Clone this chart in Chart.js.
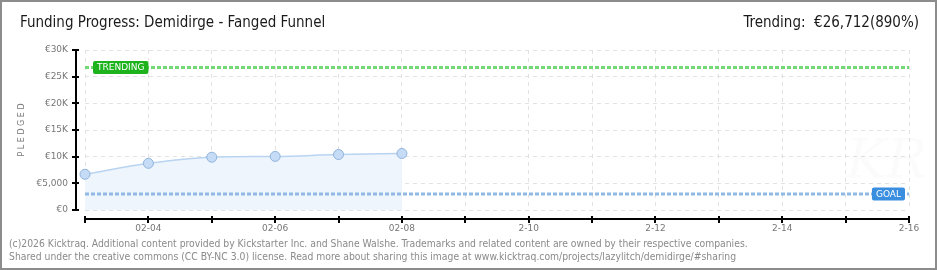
<!DOCTYPE html>
<html>
<head>
<meta charset="utf-8">
<script src="https://cdn.jsdelivr.net/npm/chart.js@4"></script>
<style>
  body { margin: 0; background: #fff; }
  #wrap { position: relative; width: 940px; height: 270px; }
  #frame { position: absolute; left: 0; top: 0; width: 937px; height: 270px; box-sizing: border-box; border: 2px solid #8c8c8c; pointer-events: none; }
  #title { position: absolute; left: 20px; top: 13px; font: 15px "Liberation Sans Narrow", "DejaVu Sans Condensed", sans-serif; color: #1a1a1a; }
  #trend { position: absolute; right: 21px; top: 13px; font: 15px "Liberation Sans Narrow", "DejaVu Sans Condensed", sans-serif; color: #1a1a1a; }
  #foot { position: absolute; left: 9px; top: 237px; font: 10.3px "DejaVu Sans Condensed", "DejaVu Sans", sans-serif; color: #8a8a8a; line-height: 12.5px; }
  #mark { position: absolute; left: 846px; top: 128px; font: italic 54px "DejaVu Serif", serif; color: rgba(0,0,0,0.015); }
</style>
</head>
<body>
<div id="wrap">
  <canvas id="myChart" width="940" height="270"></canvas>
  <div id="mark">KR</div>
  <div id="title">Funding Progress: Demidirge - Fanged Funnel</div>
  <div id="trend">Trending:&nbsp; €26,712(890%)</div>
  <div id="foot">(c)2026 Kicktraq. Additional content provided by Kickstarter Inc. and Shane Walshe. Trademarks and related content are owned by their respective companies.<br>Shared under the creative commons (CC BY-NC 3.0) license. Read more about sharing this image at www.kicktraq.com/projects/lazylitch/demidirge/#sharing</div>
  <div id="frame"></div>
</div>
<script>
const ctx = document.getElementById('myChart');

let myLabels  = ['02-03', '02-04', '02-05', '02-06', '02-07', '02-08', '02-09', '2-10', '2-11', '2-12', '2-13', '2-14', '2-15', '2-16'];
let myPledged = [6700, 8750, 9900, 10050, 10400, 10600];
let myGoal    = 3000;
let myTrend   = 26712;

const axisGap = 9;

// kicktraq style axes: offset black lines with red minor ticks
const axesPlugin = {
  id: 'axes',
  afterDraw(chart) {
    const c = chart.ctx, a = chart.chartArea;
    const x = chart.scales.x, y = chart.scales.y;
    const ax = a.left - axisGap, ay = a.bottom + axisGap;
    c.save();
    c.lineWidth = 2;
    c.strokeStyle = '#000';
    c.beginPath();
    c.moveTo(ax, a.top);
    c.lineTo(ax, a.bottom + 1);
    c.moveTo(a.left, ay);
    c.lineTo(a.right + 1, ay);
    c.stroke();
    y.ticks.forEach(t => {
      const py = Math.round(y.getPixelForValue(t.value));
      const major = t.value % 5000 === 0;
      c.strokeStyle = major ? '#000' : '#e00';
      c.beginPath();
      c.moveTo(ax - 4, py);
      c.lineTo(major ? ax + 3 : ax, py);
      c.stroke();
    });
    c.strokeStyle = '#000';
    myLabels.forEach((l, i) => {
      const px = Math.round(x.getPixelForValue(i));
      c.beginPath();
      c.moveTo(px, ay - 3);
      c.lineTo(px, ay + 4);
      c.stroke();
    });
    c.restore();
  },
  afterDatasetsDraw(chart) {
    const c = chart.ctx, a = chart.chartArea, y = chart.scales.y;
    const tag = (text, left, right, val, color) => {
      const py = y.getPixelForValue(val);
      const w = c.measureText(text).width + 8;
      const x0 = left != null ? left : right - w;
      c.fillStyle = color;
      c.beginPath();
      c.roundRect(x0, py - 6.5, w, 13, 2);
      c.fill();
      c.fillStyle = '#fff';
      c.fillText(text, x0 + 4, py + 0.5);
    };
    c.save();
    c.font = '9px "DejaVu Sans", sans-serif';
    c.textBaseline = 'middle';
    tag('TRENDING', a.left + 8, null, myTrend, '#1db31d');
    tag('GOAL', null, a.right - 4, myGoal, '#3a8ee0');
    c.restore();
  }
};

new Chart(ctx, {
  type: 'line',
  data: {
    labels: myLabels,
    datasets: [{
      label: 'Pledged',
      data: myPledged,
      borderColor: '#b9d4f1',
      borderWidth: 1.5,
      backgroundColor: '#eef5fd',
      fill: 'origin',
      cubicInterpolationMode: 'monotone',
      pointRadius: 5,
      pointBackgroundColor: '#c6dcf6',
      pointBorderColor: '#8fb3dc',
      pointBorderWidth: 1,
      order: 3
    }, {
      label: 'Goal',
      data: [{x: myLabels[0], y: myGoal}, {x: myLabels[myLabels.length - 1], y: myGoal}],
      borderColor: '#92b9e4',
      borderWidth: 3,
      borderDash: [4, 2],
      pointRadius: 0,
      fill: false,
      order: 2
    }, {
      label: 'Trending',
      data: [{x: myLabels[0], y: myTrend}, {x: myLabels[myLabels.length - 1], y: myTrend}],
      borderColor: '#74d874',
      borderWidth: 3,
      borderDash: [4, 2],
      pointRadius: 0,
      fill: false,
      order: 1
    }]
  },
  options: {
    responsive: false,
    animation: false,
    layout: { padding: { top: 50, right: 31, left: 0, bottom: 0 } },
    plugins: { legend: { display: false }, tooltip: { enabled: false } },
    scales: {
      x: {
        afterFit: s => { s.height = 60; },
        grid: { color: '#e2e2e2', drawTicks: false },
        border: { display: false, dash: [4, 4] },
        ticks: {
          autoSkip: false,
          maxRotation: 0,
          padding: 13,
          color: '#777',
          font: { family: '"DejaVu Sans", sans-serif', size: 9 },
          callback: (v, i) => i % 2 === 1 ? myLabels[i] : ''
        }
      },
      y: {
        min: 0,
        max: 30000,
        afterFit: s => { s.width = 85; },
        grid: {
          drawTicks: false,
          color: c => c.tick && c.tick.value % 5000 === 0 ? '#e2e2e2' : 'rgba(0,0,0,0)'
        },
        border: { display: false, dash: [4, 4] },
        title: {
          display: true,
          text: 'P L E D G E D',
          color: '#777',
          font: { family: '"DejaVu Sans", sans-serif', size: 8 },
          padding: { top: 17, bottom: 0 }
        },
        ticks: {
          stepSize: 2500,
          padding: 17,
          color: '#777',
          font: { family: '"DejaVu Sans", sans-serif', size: 9 },
          callback: v => {
            if (v % 5000 !== 0) return '';
            if (v === 0) return '€0';
            if (v === 5000) return '€5,000';
            return '€' + v / 1000 + 'K';
          }
        }
      }
    }
  },
  plugins: [axesPlugin]
});
</script>
</body>
</html>
